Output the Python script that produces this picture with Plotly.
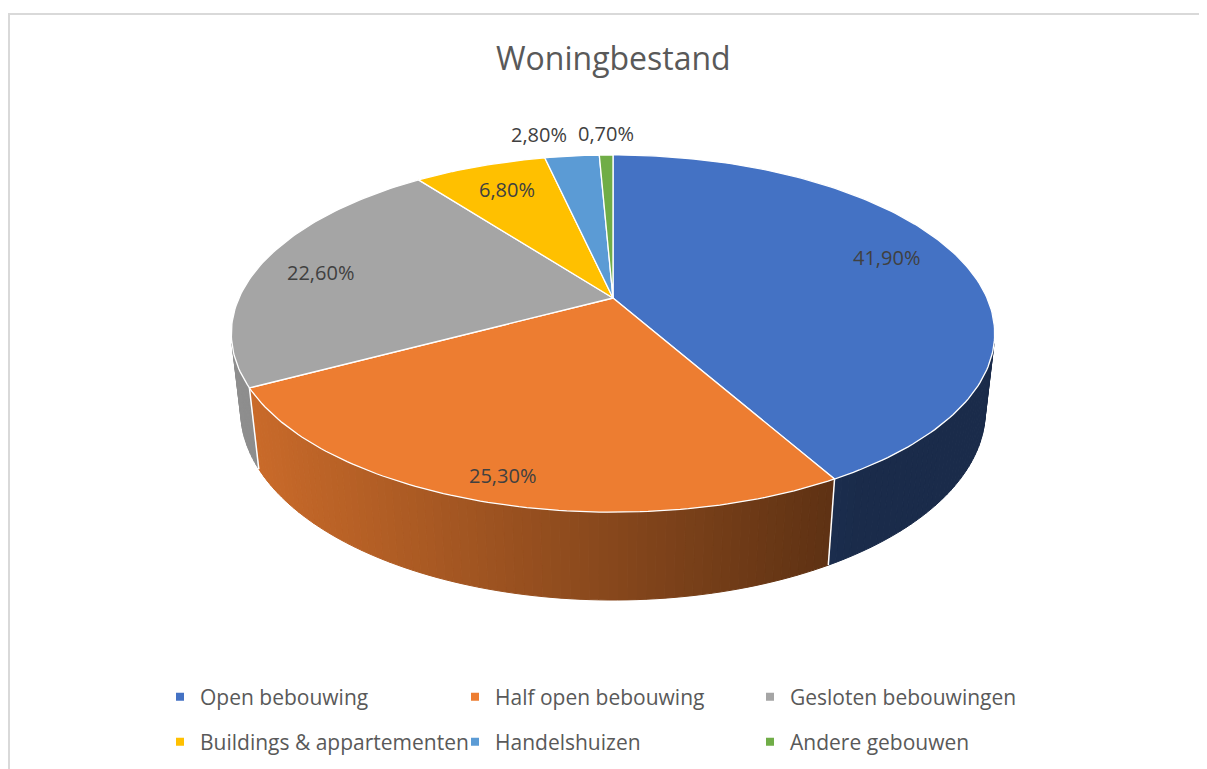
import math
import plotly.graph_objects as go

# ---- data ----
categories = ["Open bebouwing", "Half open bebouwing", "Gesloten bebouwingen",
              "Buildings & appartementen", "Handelshuizen", "Andere gebouwen"]
values = [41.9, 25.3, 22.6, 6.8, 2.8, 0.7]
colors = ["#4472C4", "#ED7D31", "#A5A5A5", "#FFC000", "#5B9BD5", "#70AD47"]
title_text = "Woningbestand"

# ---- style / geometry (data coordinates == screen pixels) ----
OFF = 8                      # page body margin
W, H = 1207, 769
CX, CY = 613, 298            # centre of top face on screen
ELEV = math.radians(27.3)    # camera elevation
DIST = 4.465                 # camera distance (in radii)
FOC = 1670.0                 # focal length in px
THICK = 0.2335               # pie thickness (in radii)
label_r = [0.78, 0.88, 0.81, 0.75, 1.1, 1.1]
label_dx = [2, 0, -6, -2, -30, 0]
label_dy = [8, -3, -3, 6, 10, 10]

ce, se = math.cos(ELEV), math.sin(ELEV)


def proj(X, Y, Z):
    vx = X
    vy = Y + DIST * ce
    vz = Z - DIST * se
    d = vy * ce - vz * se
    up = vy * se + vz * ce
    return CX + FOC * vx / d, CY - FOC * up / d


def rim(t, r=1.0, z=0.0):
    return proj(r * math.sin(t), r * math.cos(t), z)


def shade(hexcol, k):
    h = hexcol.lstrip("#")
    r, g, b = (int(h[i:i + 2], 16) for i in (0, 2, 4))
    return "rgb(%d,%d,%d)" % (round(r * k), round(g * k), round(b * k))


total = sum(values)
bounds = [0.0]
for v in values:
    bounds.append(bounds[-1] + v / total * 2 * math.pi)

fig = go.Figure()

# ---- side walls (only front-facing part) ----
lim = math.acos(-1.0 / (DIST * ce))
tmin, tmax = lim, 2 * math.pi - lim
step = math.radians(1.2)
for i, v in enumerate(values):
    a0, a1 = max(bounds[i], tmin), min(bounds[i + 1], tmax)
    if a1 <= a0:
        continue
    n = max(1, int(math.ceil((a1 - a0) / step)))
    for j in range(n):
        t1 = a0 + (a1 - a0) * j / n
        t2 = a0 + (a1 - a0) * (j + 1) / n
        p1, p2 = rim(t1), rim(t2)
        q2, q1 = rim(t2, z=-THICK), rim(t1, z=-THICK)
        xm = (p1[0] + p2[0]) / 2
        k = min(0.9, max(0.38, 0.86 - 0.46 * (xm - 235) / 595))
        c = shade(colors[i], k)
        fig.add_trace(go.Scatter(
            x=[p1[0], p2[0], q2[0], q1[0], p1[0]],
            y=[p1[1], p2[1], q2[1], q1[1], p1[1]],
            mode="lines", fill="toself", fillcolor=c,
            line=dict(color=c, width=1.0), hoverinfo="skip", showlegend=False))

# white separators on the side at slice borders
for b in bounds[1:-1]:
    if tmin < b < tmax:
        p, q = rim(b), rim(b, z=-THICK)
        fig.add_trace(go.Scatter(x=[p[0], q[0]], y=[p[1], q[1]], mode="lines",
                                 line=dict(color="white", width=1.5),
                                 hoverinfo="skip", showlegend=False))

# ---- top faces ----
for i, v in enumerate(values):
    a0, a1 = bounds[i], bounds[i + 1]
    n = max(2, int(math.degrees(a1 - a0) / 1.0) + 1)
    xs, ys = [CX], [CY]
    for j in range(n + 1):
        t = a0 + (a1 - a0) * j / n
        p = rim(t)
        xs.append(p[0]); ys.append(p[1])
    xs.append(CX); ys.append(CY)
    fig.add_trace(go.Scatter(x=xs, y=ys, mode="lines", fill="toself",
                             fillcolor=colors[i], line=dict(color="white", width=1.3),
                             name=categories[i], hoverinfo="name", showlegend=False))

# ---- data labels ----
for i, v in enumerate(values):
    tm = (bounds[i] + bounds[i + 1]) / 2
    p = rim(tm, r=label_r[i])
    fig.add_annotation(x=p[0], y=p[1], text=("%.2f" % v).replace(".", ",") + "%",
                       showarrow=False, xshift=label_dx[i], yshift=label_dy[i],
                       font=dict(family="Open Sans", size=20, color="#404040"))

# ---- legend entries ----
for i, name in enumerate(categories):
    fig.add_trace(go.Scatter(x=[None], y=[None], mode="markers", name=name,
                             marker=dict(symbol="square", size=8, color=colors[i]),
                             legend="legend" if i < 3 else "legend2"))

legend_style = dict(orientation="h", entrywidth=250, entrywidthmode="pixels",
                    xanchor="left", yanchor="middle", bgcolor="rgba(0,0,0,0)",
                    font=dict(family="Open Sans", size=21, color="#595959"),
                    itemclick=False)

fig.add_annotation(x=613, y=57, text=title_text, showarrow=False,
                   font=dict(family="Open Sans", size=32, color="#595959"))

fig.add_shape(type="rect", x0=9, y0=14, x1=W + 20, y1=H + 20,
              line=dict(color="#D9D9D9", width=2), fillcolor="rgba(0,0,0,0)")

PW, PH = W - OFF, H - OFF


def px(xp):
    return (xp - OFF) / PW


def py(yp):
    return 1 - (yp - OFF) / PH


fig.update_layout(
    width=PW, height=PH, margin=dict(l=0, r=0, t=0, b=0, pad=0),
    paper_bgcolor="white", plot_bgcolor="white",
    xaxis=dict(range=[OFF, W], visible=False, fixedrange=True),
    yaxis=dict(range=[H, OFF], visible=False, fixedrange=True),
    legend=dict(x=px(160), y=py(697), **legend_style),
    legend2=dict(x=px(160), y=py(742), **legend_style),
    showlegend=True,
)

fig.write_html("out.html")
